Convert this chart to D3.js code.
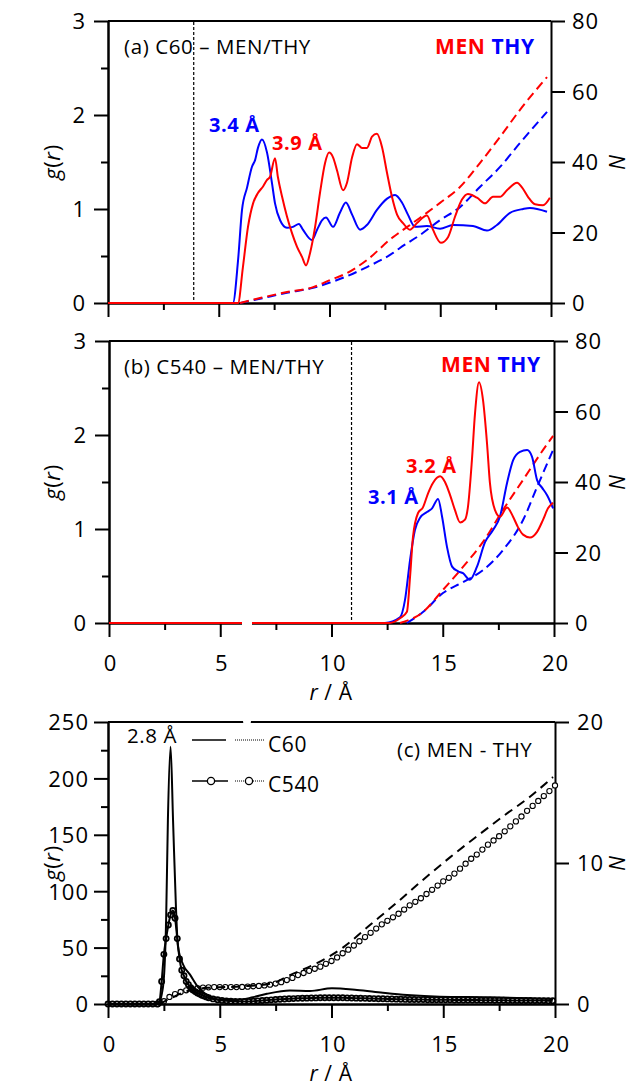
<!DOCTYPE html>
<html>
<head>
<meta charset="utf-8">
<script src="https://cdn.jsdelivr.net/npm/d3@7"></script>
<style>
  body { margin: 0; background: #fff; }
  svg text { font-family: 'Open Sans', sans-serif; letter-spacing: 0.6px; }
</style>
</head>
<body>
<div id="chart"></div>
<script>

// ---- data: [r (Å), value] ----

// (a) C60 – MEN/THY
var aMenG = [[0,0],[5.87,0],[6.09,0.38],[6.32,0.81],[6.55,1.06],[6.77,1.17],[7.0,1.24],[7.18,1.31],[7.31,1.34],[7.54,1.54],[7.67,1.34],[7.86,1.13],[8.08,0.92],[8.31,0.74],[8.53,0.6],[8.76,0.49],[8.94,0.4],[9.12,0.53],[9.35,0.81],[9.57,1.17],[9.8,1.49],[9.98,1.6],[10.16,1.55],[10.34,1.41],[10.61,1.2],[10.79,1.28],[11.02,1.55],[11.24,1.69],[11.47,1.65],[11.69,1.65],[11.92,1.77],[12.14,1.8],[12.37,1.66],[12.6,1.38],[12.82,1.13],[13.05,0.94],[13.32,0.85],[13.63,0.78],[13.95,0.85],[14.4,0.93],[14.67,0.78],[15.03,0.64],[15.35,0.7],[15.67,0.92],[15.98,1.1],[16.25,1.16],[16.66,1.12],[17.02,1.06],[17.38,1.13],[17.7,1.13],[18.01,1.2],[18.47,1.28],[18.69,1.23],[18.96,1.13],[19.28,1.05],[19.64,1.04],[19.95,1.12]];
var aThyG = [[0,0],[5.64,0],[5.87,0.45],[6.05,0.99],[6.28,1.23],[6.5,1.45],[6.64,1.52],[6.77,1.65],[6.95,1.74],[7.18,1.6],[7.4,1.28],[7.54,1.06],[7.77,0.88],[8.08,0.8],[8.35,0.81],[8.62,0.84],[8.8,0.78],[9.21,0.67],[9.44,0.78],[9.66,0.88],[9.84,0.91],[10.16,0.81],[10.47,0.96],[10.74,1.07],[11.02,0.94],[11.38,0.78],[11.69,0.83],[12.14,0.99],[12.6,1.11],[12.96,1.15],[13.27,1.07],[13.54,0.94],[13.86,0.81],[14.4,0.82],[14.99,0.79],[15.58,0.83],[16.48,0.82],[17.11,0.77],[17.56,0.83],[18.15,0.96],[18.74,1.0],[19.05,1.01],[19.82,0.97]];
var aMenN = [[5.96,0],[6.86,1.4],[8.08,3.1],[9.26,4.5],[10.02,6.5],[10.79,8.5],[11.69,12.2],[12.87,18.7],[13.18,20.1],[14.09,24.2],[14.99,28.4],[15.89,32.9],[16.79,39.7],[17.7,47.1],[18.6,54.8],[19.82,64.1]];
var aThyN = [[5.96,0],[6.86,1.2],[8.08,2.9],[9.26,4.3],[10.02,5.8],[10.79,7.6],[11.69,10.2],[12.87,14.2],[13.18,15.6],[14.09,19.3],[14.99,23.5],[15.89,27.2],[16.79,32.9],[17.7,38.6],[18.6,45.4],[19.82,54.2]];
var aCutoff = 3.87;

// (b) C540 – MEN/THY
var bMenG = [[0,0],[12.6,0],[13.08,0.05],[13.39,0.12],[13.53,0.49],[13.66,0.91],[13.89,1.17],[14.11,1.23],[14.34,1.38],[14.56,1.49],[14.88,1.56],[15.1,1.5],[15.33,1.36],[15.55,1.2],[15.78,1.07],[16.0,1.1],[16.13,1.23],[16.31,1.73],[16.45,2.23],[16.63,2.56],[16.81,2.37],[16.99,1.91],[17.12,1.49],[17.35,1.2],[17.57,1.13],[17.89,1.23],[18.16,1.13],[18.38,1.02],[18.61,0.94],[18.92,0.91],[19.24,0.97],[19.51,1.1],[19.73,1.22],[19.96,1.28]];
var bThyG = [[0,0],[12.4,0],[13.08,0.06],[13.3,0.24],[13.53,0.67],[13.75,0.99],[13.98,1.12],[14.29,1.18],[14.52,1.22],[14.79,1.32],[14.97,1.13],[15.19,0.81],[15.42,0.6],[15.69,0.55],[15.91,0.53],[16.22,0.46],[16.54,0.6],[16.9,0.86],[17.26,0.99],[17.57,1.13],[17.89,1.49],[18.16,1.73],[18.47,1.82],[18.79,1.84],[19.01,1.77],[19.24,1.52],[19.46,1.44],[19.69,1.36],[19.96,1.22]];
var bMenN = [[13.08,0],[14.11,3.1],[15.01,9.4],[15.91,15.9],[16.81,23.0],[17.71,32.1],[18.61,40.6],[19.51,49.1],[19.96,53.1]];
var bThyN = [[13.39,0],[14.11,3.1],[15.01,8.5],[15.91,11.6],[16.81,15.0],[17.71,20.7],[18.61,29.2],[19.24,38.6],[19.96,49.1]];
var bCutoff = 10.9;

// (c) MEN - THY
var cC60G = [[0,0],[2.24,0],[2.46,15],[2.6,74],[2.68,163],[2.8,228],[2.91,163],[3.04,86],[3.13,51],[3.36,35],[3.67,26],[4.03,15],[4.43,8],[5.01,4],[5.77,3.5],[6.49,6],[7.11,9],[8.14,12],[9.04,11.5],[10.02,14],[11.14,12.5],[12.3,10],[13.38,8],[14.85,6.5],[17.09,6],[19.91,4.5]];
var cC60N = [[2.3,0],[2.8,0.4],[3.5,0.9],[4.5,1.15],[6.0,1.25],[7.3,1.45],[8.14,2.05],[9.35,2.9],[10.51,4.0],[11.72,5.6],[12.93,7.2],[14.09,8.8],[15.3,10.4],[16.51,11.9],[17.67,13.3],[18.88,14.7],[19.91,16.1]];
var cC540G = [[0,0],[0.2,0],[0.4,0],[0.6,0],[0.8,0],[1.0,0],[1.2,0],[1.4,0],[1.6,0],[1.8,0],[2.0,0],[2.2,0],
  [2.3,2],[2.4,20],[2.5,44],[2.6,58],[2.7,70],[2.8,79],[2.9,83],[3.0,76],[3.1,58],[3.2,40],[3.3,30],[3.4,25],[3.5,20],[3.6,17],[3.7,14.5],[3.8,12.5],[3.9,11],[4.0,9.8],[4.1,8.8],[4.2,7.8],[4.3,7],[4.4,6.3],[4.5,5.6],
  [4.7,4.5],[4.9,3.8],[5.1,3.2],[5.3,2.8],[5.5,2.5],[5.7,2.3],[5.9,2.2],[6.1,2.2],[6.3,2.3],[6.5,2.5],[6.7,2.8],[6.9,3.1],[7.1,3.4],[7.3,3.7],[7.5,4.0],[7.7,4.2],[7.9,4.4],[8.1,4.6],[8.3,4.8],[8.5,5.0],[8.7,5.1],[8.9,5.2],[9.1,5.3],[9.3,5.4],[9.5,5.5],[9.7,5.6],[9.9,5.6],[10.1,5.6],[10.3,5.5],[10.5,5.5],[10.7,5.4],[10.9,5.3],[11.1,5.2],[11.3,5.1],[11.5,5.0],[11.7,4.9],[11.9,4.8],[12.1,4.7],[12.3,4.6],[12.5,4.5],[12.7,4.4],[12.9,4.3],[13.1,4.2],[13.3,4.1],[13.5,4.0],[13.7,4.0],[13.9,3.9],[14.1,3.9],[14.3,3.8],[14.5,3.8],[14.7,3.8],[14.9,3.7],[15.1,3.7],[15.3,3.7],[15.5,3.6],[15.7,3.6],[15.9,3.6],[16.1,3.5],[16.3,3.5],[16.5,3.5],[16.7,3.4],[16.9,3.4],[17.1,3.4],[17.3,3.3],[17.5,3.3],[17.7,3.3],[17.9,3.2],[18.1,3.2],[18.3,3.2],[18.5,3.1],[18.7,3.1],[18.9,3.1],[19.1,3.0],[19.3,3.0],[19.5,3.0],[19.7,2.9],[19.9,2.9]];
var cC540N = [[2.25,0],[2.5,0.2],[2.75,0.5],[3.0,0.7],[3.25,0.85],[3.5,0.97],[3.75,1.05],[4.0,1.12],[4.25,1.16],[4.5,1.18],[4.75,1.2],[5.0,1.2],[5.25,1.2],[5.5,1.2],[5.75,1.2],[6.0,1.21],[6.25,1.23],[6.5,1.26],[6.75,1.28],[7.0,1.32],[7.25,1.37],[7.5,1.45],[7.75,1.55],[8.0,1.7],[8.25,1.85],[8.5,2.05],[8.75,2.2],[9.0,2.35],[9.25,2.5],[9.5,2.65],[9.75,2.85],[10.0,3.05],[10.25,3.3],[10.5,3.6],[10.75,3.85],[11.0,4.15],[11.25,4.45],[11.5,4.75],[11.75,5.05],[12.0,5.35],[12.25,5.65],[12.5,5.9],[12.75,6.15],[13.0,6.4],[13.25,6.7],[13.5,7.0],[13.75,7.25],[14.0,7.5],[14.25,7.8],[14.5,8.1],[14.75,8.4],[15.0,8.7],[15.25,8.95],[15.5,9.25],[15.75,9.6],[16.0,9.95],[16.25,10.3],[16.5,10.6],[16.75,10.95],[17.0,11.3],[17.25,11.6],[17.5,11.9],[17.75,12.25],[18.0,12.6],[18.25,12.95],[18.5,13.3],[18.75,13.7],[19.0,14.05],[19.25,14.4],[19.5,14.75],[19.75,15.1],[20.0,15.5]];

// ticks
var xMajor = [0, 5, 10, 15, 20];
var xMinor = [2.5, 7.5, 12.5, 17.5];
var gMajorAB = [0, 1, 2, 3];
var gMinorAB = [0.5, 1.5, 2.5];
var nMajorAB = [0, 20, 40, 60, 80];
var gMajorC = [0, 50, 100, 150, 200, 250];
var gMinorC = [25, 75, 125, 175, 225];
var nMajorC = [0, 10, 20];

var RED = '#ff0000', BLUE = '#0000ff';

var svg = d3.select('#chart').append('svg')
  .attr('width', 633)
  .attr('height', 1087);

var styleAxis = function(sel) {
  sel.select('.domain').attr('stroke', '#000').attr('stroke-width', 2);
  sel.selectAll('.tick line').attr('stroke', '#000').attr('stroke-width', 2);
  sel.selectAll('text').attr('font-size', 22).attr('font-family', "'Open Sans', sans-serif")
    .attr('fill', '#000').style('letter-spacing', '1px');
};

// one panel: scales + axes
var makePanel = function(p) {
  var x = d3.scaleLinear().domain([0, 20]).range([p.left, p.right]);
  var y = d3.scaleLinear().domain([0, p.gMax]).range([p.bottom, p.top]);
  var yN = d3.scaleLinear().domain([0, p.nMax]).range([p.bottom, p.top]);
  var g = svg.append('g');

  // top border
  g.append('line')
    .attr('x1', p.left).attr('x2', p.right)
    .attr('y1', p.top).attr('y2', p.top)
    .attr('stroke', '#000').attr('stroke-width', 2);

  // bottom
  g.append('g').attr('transform', 'translate(0,' + p.bottom + ')')
    .call(d3.axisBottom(x).tickValues(xMinor).tickSize(7).tickSizeOuter(0).tickFormat(''))
    .call(styleAxis);
  var xa = g.append('g').attr('transform', 'translate(0,' + p.bottom + ')')
    .call(d3.axisBottom(x).tickValues(xMajor).tickSize(14).tickSizeOuter(0)
      .tickFormat(p.xLabels ? d3.format('d') : ''))
    .call(styleAxis);
  xa.selectAll('text').attr('y', 48).attr('dy', 0).attr('dx', '0.05em');

  // left
  g.append('g').attr('transform', 'translate(' + p.left + ',0)')
    .call(d3.axisLeft(y).tickValues(p.gMinor).tickSize(7).tickSizeOuter(0).tickFormat(''))
    .call(styleAxis);
  var ya = g.append('g').attr('transform', 'translate(' + p.left + ',0)')
    .call(d3.axisLeft(y).tickValues(p.gMajor).tickSize(14).tickSizeOuter(0).tickFormat(d3.format('d')))
    .call(styleAxis);
  ya.selectAll('text').attr('x', -p.leftPad).attr('dy', '0.36em');

  // right
  var na = g.append('g').attr('transform', 'translate(' + p.right + ',0)')
    .call(d3.axisRight(yN).tickValues(p.nMajor).tickSize(14).tickSizeOuter(0).tickFormat(d3.format('d')))
    .call(styleAxis);
  na.selectAll('text').attr('x', p.rightPad).attr('dy', '0.36em');

  // axis titles
  var mid = (p.top + p.bottom) / 2;
  var gt = g.append('text')
    .attr('transform', 'translate(60,' + mid + ') rotate(-90)')
    .attr('text-anchor', 'middle')
    .attr('font-size', 22);
  gt.append('tspan').attr('font-style', 'italic').text('g');
  gt.append('tspan').text('(');
  gt.append('tspan').attr('font-style', 'italic').text('r');
  gt.append('tspan').text(')');

  g.append('text')
    .attr('transform', 'translate(609,' + mid + ') rotate(90)')
    .attr('text-anchor', 'middle')
    .attr('font-size', 21)
    .attr('font-style', 'italic')
    .text('N');

  if (p.xTitleY) {
    var xt = g.append('text')
      .attr('x', 331).attr('y', p.xTitleY)
      .attr('text-anchor', 'middle')
      .attr('font-size', 21);
    xt.append('tspan').attr('font-style', 'italic').text('r');
    xt.append('tspan').text(' / Å');
  }

  return {x: x, y: y, yN: yN, g: g};
};

var drawLine = function(panel, data, yScale, color, width, dash) {
  var line = d3.line()
    .x(function(d){ return panel.x(d[0]); })
    .y(function(d){ return yScale(d[1]); })
    .curve(d3.curveMonotoneX);
  return panel.g.append('path')
    .datum(data)
    .attr('d', line)
    .attr('fill', 'none')
    .attr('stroke', color)
    .attr('stroke-width', width)
    .attr('stroke-dasharray', dash || null)
    .attr('stroke-linejoin', 'round');
};

var drawCircles = function(panel, data, yScale, fill, sw) {
  panel.g.append('g').selectAll('circle')
    .data(data)
  .enter().append('circle')
    .attr('cx', function(d){ return panel.x(d[0]); })
    .attr('cy', function(d){ return yScale(d[1]); })
    .attr('r', 2.6)
    .attr('fill', fill)
    .attr('stroke', '#000')
    .attr('stroke-width', sw);
};

var drawCutoff = function(panel, r, top, bottom) {
  panel.g.append('line')
    .attr('x1', panel.x(r)).attr('x2', panel.x(r))
    .attr('y1', top).attr('y2', bottom)
    .attr('stroke', '#000').attr('stroke-width', 1.2)
    .attr('stroke-dasharray', '3,2');
};

var menThy = function(panel, x, y) {
  var t = panel.g.append('text').attr('x', x).attr('y', y)
    .attr('font-size', 21).attr('font-weight', 'bold');
  t.append('tspan').attr('fill', RED).text('MEN');
  t.append('tspan').attr('fill', BLUE).text(' THY');
};

var label = function(panel, txt, x, y, color, bold) {
  panel.g.append('text').attr('x', x).attr('y', y)
    .attr('font-size', bold ? 20 : 20.5)
    .attr('font-weight', bold ? 'bold' : null)
    .attr('fill', color || '#000')
    .text(txt);
};

// ---- panel (a) ----
var pa = makePanel({left: 108, right: 551, top: 21, bottom: 303, gMax: 3, nMax: 80,
  gMajor: gMajorAB, gMinor: gMinorAB, nMajor: nMajorAB, leftPad: 22, rightPad: 21, xLabels: false});
drawCutoff(pa, aCutoff, 22, 302);
drawLine(pa, aThyN, pa.yN, BLUE, 2, '9,5');
drawLine(pa, aMenN, pa.yN, RED, 2, '9,5');
drawLine(pa, aThyG, pa.y, BLUE, 2);
drawLine(pa, aMenG, pa.y, RED, 2);
label(pa, '(a) C60 – MEN/THY', 124, 54);
menThy(pa, 435, 54);
label(pa, '3.4 Å', 209, 132, BLUE, true);
label(pa, '3.9 Å', 272, 150, RED, true);

// ---- panel (b) ----
var pb = makePanel({left: 109, right: 554, top: 341, bottom: 623, gMax: 3, nMax: 80,
  gMajor: gMajorAB, gMinor: gMinorAB, nMajor: nMajorAB, leftPad: 22, rightPad: 21, xLabels: true, xTitleY: 700});
drawCutoff(pb, bCutoff, 342, 622);
drawLine(pb, bThyN, pb.yN, BLUE, 2, '9,5');
drawLine(pb, bMenN, pb.yN, RED, 2, '9,5');
drawLine(pb, bThyG, pb.y, BLUE, 2);
drawLine(pb, bMenG, pb.y, RED, 2);
label(pb, '(b) C540 – MEN/THY', 124, 374);
menThy(pb, 441, 372);
label(pb, '3.2 Å', 406, 473, RED, true);
label(pb, '3.1 Å', 368, 504, BLUE, true);
// small white gap in the baseline
pb.g.append('rect').attr('x', 242).attr('y', 621).attr('width', 10).attr('height', 4).attr('fill', '#fff');

// ---- panel (c) ----
var pc = makePanel({left: 108, right: 555, top: 722, bottom: 1004, gMax: 250, nMax: 20,
  gMajor: gMajorC, gMinor: gMinorC, nMajor: nMajorC, leftPad: 19, rightPad: 22, xLabels: true, xTitleY: 1080.5});
drawLine(pc, cC540N, pc.yN, '#000', 1, '1.5,1.5');
drawCircles(pc, cC540N, pc.yN, '#fff', 1.1);
drawLine(pc, cC60N, pc.yN, '#000', 2, '9,6');
drawCircles(pc, cC540G, pc.y, 'none', 1.7);
drawLine(pc, cC540G, pc.y, '#000', 2);
drawLine(pc, cC60G, pc.y, '#000', 2);
label(pc, '2.8 Å', 127, 743);
label(pc, '(c) MEN - THY', 397, 757);

// legend
var lg = pc.g.append('g');
lg.append('line').attr('x1', 192).attr('x2', 226).attr('y1', 740).attr('y2', 740).attr('stroke', '#000').attr('stroke-width', 1.5);
lg.append('line').attr('x1', 235).attr('x2', 264).attr('y1', 740).attr('y2', 740).attr('stroke', '#000').attr('stroke-width', 1).attr('stroke-dasharray', '1,1');
lg.append('text').attr('x', 268).attr('y', 752).attr('font-size', 21).text('C60');
lg.append('line').attr('x1', 192).attr('x2', 228).attr('y1', 781).attr('y2', 781).attr('stroke', '#000').attr('stroke-width', 1.5);
lg.append('line').attr('x1', 235).attr('x2', 264).attr('y1', 781).attr('y2', 781).attr('stroke', '#000').attr('stroke-width', 1).attr('stroke-dasharray', '1,1');
lg.selectAll('circle').data([211, 249]).enter().append('circle')
  .attr('cx', function(d){ return d; }).attr('cy', 781).attr('r', 3.6)
  .attr('fill', '#fff').attr('stroke', '#000').attr('stroke-width', 1.3);
lg.append('text').attr('x', 268).attr('y', 792).attr('font-size', 21).text('C540');
// white notch on the top border
pc.g.append('circle').attr('cx', 247).attr('cy', 721).attr('r', 4).attr('fill', '#fff');

</script>
</body>
</html>
